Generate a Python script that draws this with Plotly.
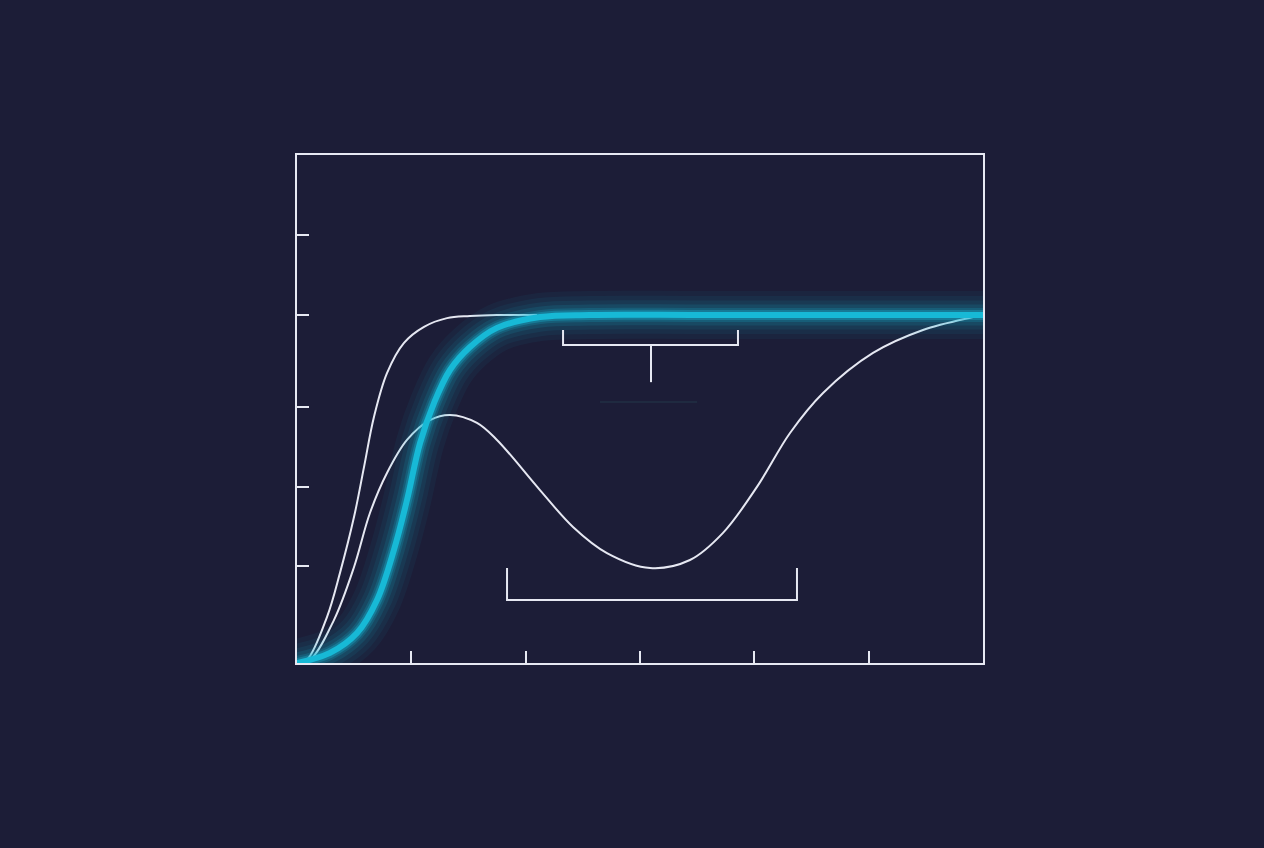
import plotly.graph_objects as go

# curve samples (x in tick units, y relative to plateau)
fast_x = [0, 0.087, 0.262, 0.376, 0.499, 0.586, 0.673, 0.787, 0.936, 1.111,
          1.312, 1.513, 1.749, 2.1]
fast_y = [0, 0.009, 0.132, 0.259, 0.420, 0.563, 0.707, 0.833, 0.920, 0.966,
          0.991, 0.997, 1.0, 1.0]

main_x = [0, 0.289, 0.525, 0.70, 0.848, 0.962, 1.076, 1.198, 1.338, 1.513,
          1.749, 2.125, 2.56, 3.5, 4.5, 6.0]
main_y = [0, 0.029, 0.086, 0.181, 0.325, 0.468, 0.632, 0.747, 0.842, 0.908,
          0.963, 0.994, 1.0, 1.0, 1.0, 1.0]

wave_x = [0, 0.114, 0.324, 0.499, 0.638, 0.787, 0.962, 1.163, 1.338, 1.574,
          1.749, 2.125, 2.414, 2.711, 3.088, 3.437, 3.726, 4.023, 4.312,
          4.601, 5.038, 5.475, 5.913, 6.0]
wave_y = [0, 0.009, 0.124, 0.276, 0.431, 0.546, 0.641, 0.698, 0.713, 0.690,
          0.641, 0.497, 0.391, 0.316, 0.273, 0.296, 0.374, 0.506, 0.661,
          0.776, 0.891, 0.957, 0.994, 1.0]

# bracket annotations
top_bracket_x = [2.327, 2.327, 3.857, 3.857, None, 3.096, 3.096]
top_bracket_y = [0.957, 0.914, 0.914, 0.957, None, 0.914, 0.807]
low_bracket_x = [1.837, 1.837, 4.373, 4.373]
low_bracket_y = [0.273, 0.181, 0.181, 0.273]
faint_x = [2.65, 3.5]
faint_y = [0.75, 0.75]

x_ticks = [1, 2, 3, 4, 5]
y_ticks = [0.279, 0.506, 0.736, 1.0, 1.23]

BG = '#1c1d37'
WHITE = '#e6e8f2'
CYAN = '#17b9d6'

fig = go.Figure()

fig.add_trace(go.Scatter(x=faint_x, y=faint_y, mode='lines',
                         line=dict(color='#22384a', width=1)))

for x, y in [(fast_x, fast_y), (wave_x, wave_y)]:
    fig.add_trace(go.Scatter(x=x, y=y, mode='lines', cliponaxis=False,
                             line=dict(color=WHITE, width=2, shape='spline',
                                       smoothing=1.0)))

# glow around the main curve
for w, op in [(48, 0.05), (38, 0.06), (29, 0.08), (21, 0.12), (14, 0.18),
              (10, 0.32)]:
    fig.add_trace(go.Scatter(x=main_x, y=main_y, mode='lines', cliponaxis=False,
                             opacity=op,
                             line=dict(color=CYAN, width=w, shape='spline',
                                       smoothing=1.0)))
fig.add_trace(go.Scatter(x=main_x, y=main_y, mode='lines', cliponaxis=False,
                         line=dict(color=CYAN, width=6, shape='spline',
                                   smoothing=1.0)))

for x, y in [(top_bracket_x, top_bracket_y), (low_bracket_x, low_bracket_y)]:
    fig.add_trace(go.Scatter(x=x, y=y, mode='lines',
                             line=dict(color=WHITE, width=2)))

axis_style = dict(
    showline=True,
    mirror=True,
    linecolor=WHITE,
    linewidth=2,
    ticks='inside',
    ticklen=12,
    tickwidth=2,
    tickcolor=WHITE,
    showticklabels=False,
    showgrid=False,
    zeroline=False,
)

fig.update_xaxes(range=[0, 6], tickvals=x_ticks,
                 domain=[297 / 1264, 983 / 1264], **axis_style)
fig.update_yaxes(range=[0, 508 / 348], tickvals=y_ticks,
                 domain=[1 - 663 / 848, 1 - 155 / 848], **axis_style)

fig.update_layout(
    width=1264,
    height=848,
    paper_bgcolor=BG,
    plot_bgcolor=BG,
    margin=dict(l=0, r=0, t=0, b=0),
    showlegend=False,
)

fig.write_html(
    "out.html",
    config={'displayModeBar': False},
    post_script="document.body.style.margin='0';"
                "document.body.style.background='" + BG + "';",
)
